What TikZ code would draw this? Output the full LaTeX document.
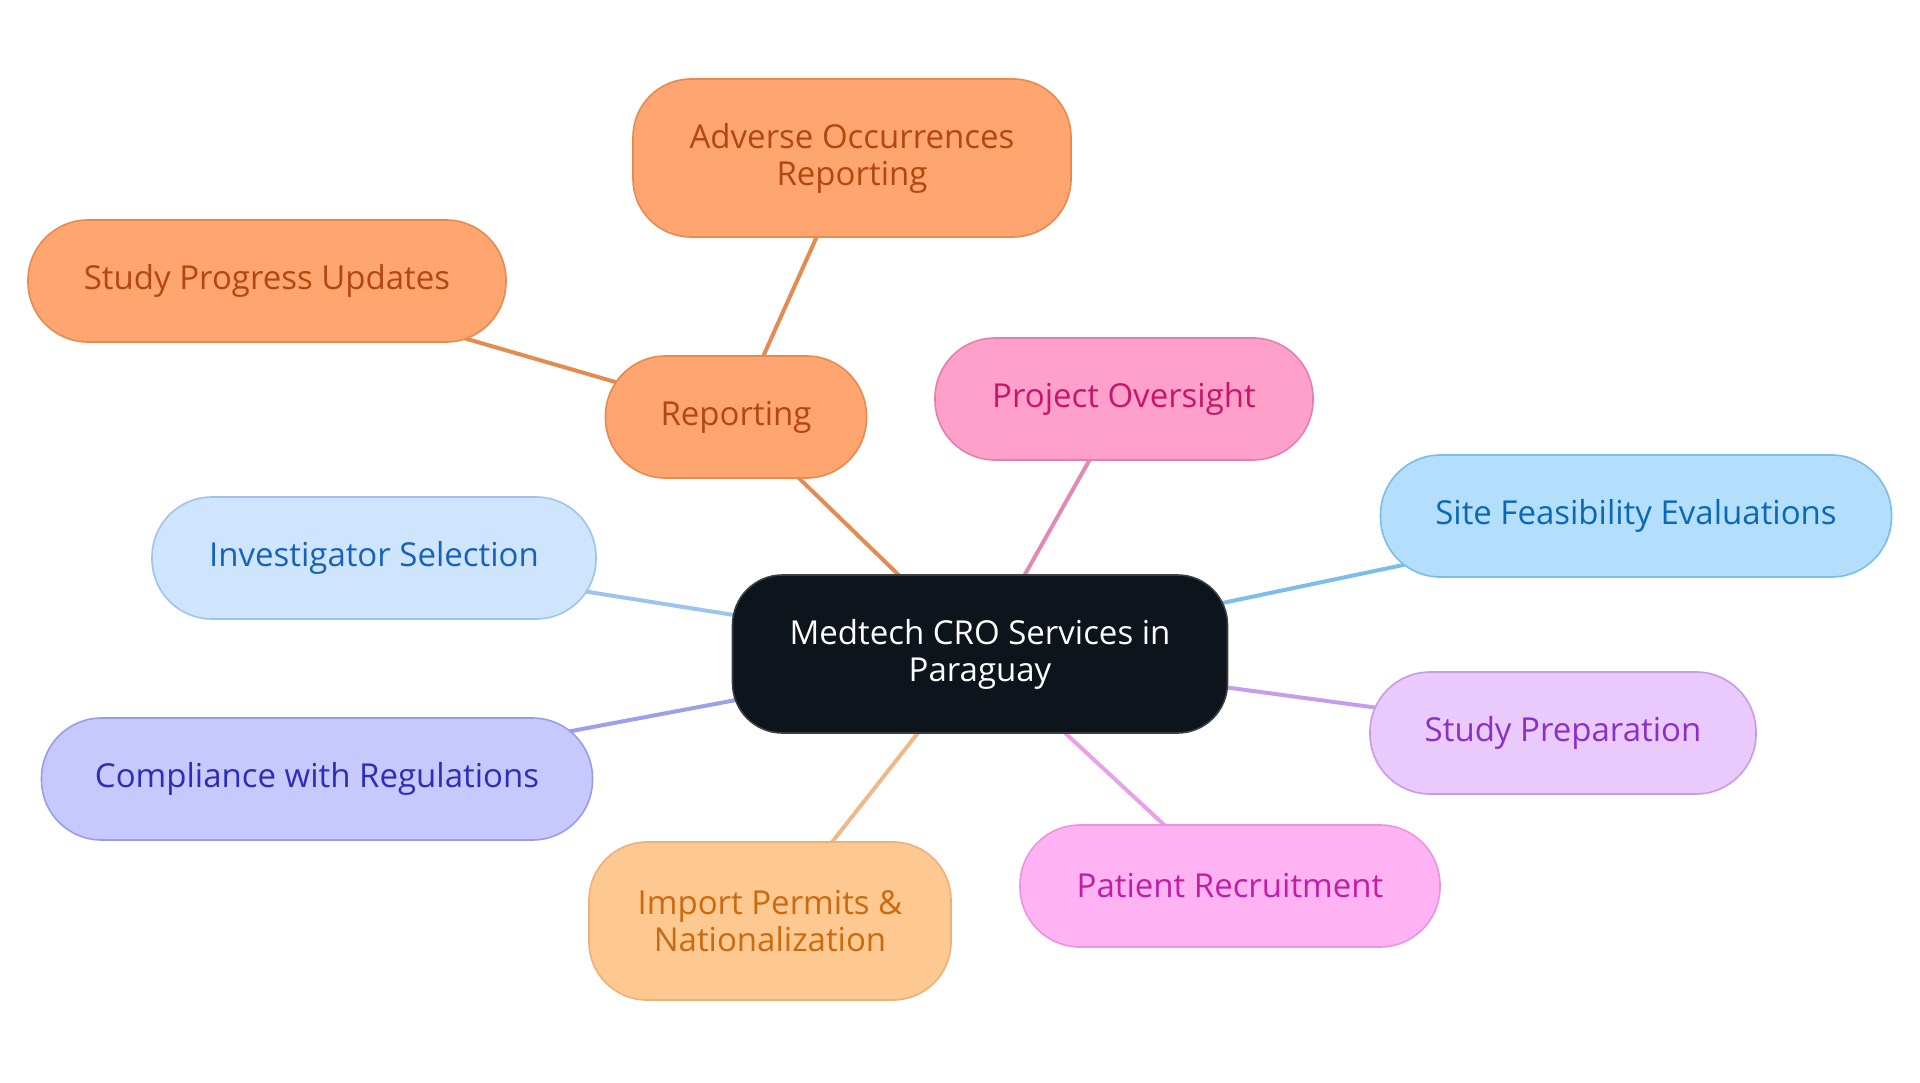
\documentclass[tikz,border=0pt]{standalone}
\usepackage{fontspec}
\setmainfont{Open Sans}
\usetikzlibrary{backgrounds}

\definecolor{hubfill}{HTML}{0D141B}
\definecolor{hubdraw}{HTML}{3A3F45}
\definecolor{repfill}{HTML}{FFA570}
\definecolor{repdraw}{HTML}{E8894F}
\definecolor{reptext}{HTML}{B4470D}
\definecolor{repline}{HTML}{E48B52}
\definecolor{ovfill}{HTML}{FFA0CB}
\definecolor{ovdraw}{HTML}{E37FB0}
\definecolor{ovtext}{HTML}{C8156C}
\definecolor{ovline}{HTML}{E389B8}
\definecolor{sitefill}{HTML}{B3DFFD}
\definecolor{sitedraw}{HTML}{7BBCE8}
\definecolor{sitetext}{HTML}{0A68B4}
\definecolor{siteline}{HTML}{7CBDE9}
\definecolor{prepfill}{HTML}{EAC9FD}
\definecolor{prepdraw}{HTML}{C79AEB}
\definecolor{preptext}{HTML}{8A2FC8}
\definecolor{prepline}{HTML}{C69CEC}
\definecolor{patfill}{HTML}{FFB3F2}
\definecolor{patdraw}{HTML}{EB92E0}
\definecolor{pattext}{HTML}{C01FA4}
\definecolor{patline}{HTML}{E9A0E6}
\definecolor{impfill}{HTML}{FEC891}
\definecolor{impdraw}{HTML}{EDB07A}
\definecolor{imptext}{HTML}{CC6A10}
\definecolor{impline}{HTML}{EDB98A}
\definecolor{compfill}{HTML}{C7C9FE}
\definecolor{compdraw}{HTML}{999CEA}
\definecolor{comptext}{HTML}{2C2DB8}
\definecolor{compline}{HTML}{9C9FEA}
\definecolor{invfill}{HTML}{CFE4FD}
\definecolor{invdraw}{HTML}{9DC4EE}
\definecolor{invtext}{HTML}{1762BB}
\definecolor{invline}{HTML}{9DC4EE}

\tikzset{every node/.style={align=center,line width=1.6pt,inner sep=0pt,font=\fontsize{33}{37}\selectfont},
  pill/.style={rounded corners=60pt,minimum height=122pt},
  tall/.style={rounded corners=58pt,minimum height=158pt},
  hubbox/.style={fill=hubfill,draw=hubdraw,text=white,rounded corners=50pt,minimum height=158pt},
  repbox/.style={fill=repfill,draw=repdraw,text=reptext},
  ovbox/.style={fill=ovfill,draw=ovdraw,text=ovtext},
  sitebox/.style={fill=sitefill,draw=sitedraw,text=sitetext},
  prepbox/.style={fill=prepfill,draw=prepdraw,text=preptext},
  patbox/.style={fill=patfill,draw=patdraw,text=pattext},
  impbox/.style={fill=impfill,draw=impdraw,text=imptext},
  compbox/.style={fill=compfill,draw=compdraw,text=comptext},
  invbox/.style={fill=invfill,draw=invdraw,text=invtext},
  link/.style={line width=4pt}}

\begin{document}
\begin{tikzpicture}[x=1pt,y=-1pt]
      \useasboundingbox (0,0) rectangle (1920,1083);
      \node[hubbox,minimum width=495pt] (hub) at (980,654) {Medtech CRO Services in\\Paraguay};
      \node[repbox,tall,minimum width=438pt] (adverse) at (852,158) {Adverse Occurrences\\Reporting};
      \node[repbox,pill,minimum width=261pt] (reporting) at (736,417) {Reporting};
      \node[repbox,pill,minimum width=478pt] (progress) at (267,281) {Study Progress Updates};
      \node[ovbox,pill,minimum width=378pt] (oversight) at (1124,399) {Project Oversight};
      \node[sitebox,pill,minimum width=511pt] (feasibility) at (1636,516) {Site Feasibility Evaluations};
      \node[prepbox,pill,minimum width=386pt] (preparation) at (1563,733) {Study Preparation};
      \node[patbox,pill,minimum width=420pt] (recruitment) at (1230,886) {Patient Recruitment};
      \node[impbox,tall,minimum width=362pt] (permits) at (770,921) {Import Permits \&\\Nationalization};
      \node[compbox,pill,minimum width=551pt] (compliance) at (317,779) {Compliance with Regulations};
      \node[invbox,pill,minimum width=444pt] (investigator) at (374,558) {Investigator Selection};

\begin{scope}[on background layer]
\foreach \a/\b/\c in {hub/reporting/repline,reporting/adverse/repline,reporting/progress/repline,
    hub/oversight/ovline,hub/feasibility/siteline,hub/preparation/prepline,hub/recruitment/patline,
    hub/permits/impline,hub/compliance/compline,hub/investigator/invline}
  \draw[link,\c] (\a.center) -- (\b.center);
\end{scope}
    \end{tikzpicture}
\end{document}
